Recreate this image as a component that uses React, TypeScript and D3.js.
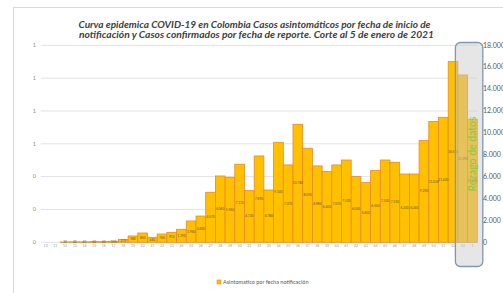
import { format, formatLocale, scaleBand, scaleLinear } from 'd3'

const weeks = [
  '10', '11', '12', '13', '14', '15', '16', '17', '18', '19',
  '20', '21', '22', '23', '24', '25', '26', '27', '28', '29',
  '30', '31', '32', '33', '34', '35', '36', '37', '38', '39',
  '40', '41', '42', '43', '44', '45', '46', '47', '48', '49',
  '50', '51', '52', '53', '1',
]

const asintomaticos = [
  0, 0, 30, 40, 40, 60, 60, 100, 270, 580,
  850, 460, 760, 910, 1190, 1950, 2400, 4570, 6060, 5940,
  7130, 4720, 7890, 4780, 9140, 7070, 10780, 8590, 6980, 6460,
  7070, 7520, 6000, 5450, 6550, 7520, 7310, 6240, 6240, 9290,
  11030, 11420, 16510, 15290, 11240,
]

// semanas con rezago de datos
const rezagoWeeks = ['53', '1']

const rightTicks = [0, 2000, 4000, 6000, 8000, 10000, 12000, 14000, 16000, 18000]
const leftTicks = [0, 0.2, 0.4, 0.6, 0.8, 1, 1.2]

const titleLines = [
  'Curva epidemica COVID-19 en Colombia  Casos asintomáticos por fecha de inicio de',
  'notificación y Casos  confirmados por fecha de reporte. Corte al 5 de enero de 2021',
]

const legendLabel = 'Asintomatico  por fecha notificación'

const width = 503
const height = 293

const plot = { left: 40.8, right: 477.3, top: 45.3, bottom: 242.3 }

const es = formatLocale({
  decimal: ',',
  thousands: '.',
  grouping: [3],
  currency: ['$', ''],
})
const fmtThousands = es.format(',')
const fmtLeft = format('.0f')

export default function App() {
  const xScale = scaleBand()
    .domain(weeks)
    .range([plot.left, plot.right])
    .padding(0)

  const yRight = scaleLinear().domain([0, 18000]).range([plot.bottom, plot.top])
  const yLeft = scaleLinear().domain([0, 1.2]).range([plot.bottom, plot.top])

  const rezagoX0 = (xScale(rezagoWeeks[0]) ?? 0) - 2.5
  const rezagoX1 = (xScale(rezagoWeeks[rezagoWeeks.length - 1]) ?? 0) + xScale.bandwidth() + 5.5

  return (
    <svg
      width={width}
      height={height}
      viewBox={`0 0 ${width} ${height}`}
      style={{ position: 'absolute', left: 0, top: 0, background: '#fff' }}
      fontFamily="Lato, 'Open Sans', sans-serif"
    >
      <rect x={13.5} y={7.5} width={600} height={400} fill="#fff" stroke="#d9d9d9" />

      {titleLines.map((line, i) => (
        <text
          key={line}
          x={width / 2 + 3 + i * 2}
          y={27.8 + i * 10}
          textAnchor="middle"
          fontSize={9.3}
          fontStyle="italic"
          fontWeight="bold"
          fill="#404040"
          textLength={352 + i * 3}
          lengthAdjust="spacingAndGlyphs"
        >
          {line}
        </text>
      ))}

      {leftTicks.map((tick) => (
        <line
          key={`grid-${tick}`}
          x1={plot.left}
          x2={plot.right}
          y1={yLeft(tick)}
          y2={yLeft(tick)}
          stroke="#e3e3e3"
          strokeWidth={1}
        />
      ))}

      {leftTicks.map((tick) => (
        <text
          key={`left-${tick}`}
          x={36}
          y={yLeft(tick)}
          dy="0.32em"
          textAnchor="end"
          fontSize={5.5}
          fill="#8c8c8c"
        >
          {fmtLeft(tick)}
        </text>
      ))}

      {asintomaticos.map((value, i) => {
        const x = xScale(weeks[i]) ?? 0
        const y = yRight(value)
        return (
          <rect
            key={`bar-${weeks[i]}`}
            x={x}
            y={y}
            width={xScale.bandwidth()}
            height={plot.bottom - y}
            fill="#FFC000"
            stroke="#E8892C"
            strokeWidth={0.8}
          />
        )
      })}

      {asintomaticos.map((value, i) => {
        if (value <= 0) return null
        const x = (xScale(weeks[i]) ?? 0) + xScale.bandwidth() / 2
        const y = (yRight(value) + plot.bottom) / 2
        return (
          <text
            key={`val-${weeks[i]}`}
            x={x}
            y={y}
            dy="0.32em"
            textAnchor="middle"
            fontSize={3.2}
            fill="#6a5424"
          >
            {fmtThousands(value)}
          </text>
        )
      })}

      {weeks.map((week) => (
        <text
          key={`wk-${week}`}
          x={(xScale(week) ?? 0) + xScale.bandwidth() / 2}
          y={247}
          textAnchor="middle"
          fontSize={3.5}
          fill="#9a9a9a"
        >
          {week}
        </text>
      ))}

      <rect
        x={rezagoX0}
        y={42.5}
        width={rezagoX1 - rezagoX0}
        height={224}
        rx={5}
        fill="rgba(200,200,200,0.45)"
        stroke="#8496b0"
        strokeWidth={1.3}
      />

      <text
        transform={`translate(${(rezagoX0 + rezagoX1) / 2 + 3.5}, 154) rotate(-90)`}
        textAnchor="middle"
        dy="0.35em"
        fontSize={10.5}
        fill="#8cc63f"
      >
        Rezago de datos
      </text>

      {rightTicks.map((tick) => (
        <text
          key={`right-${tick}`}
          x={483}
          y={yRight(tick)}
          dy="0.32em"
          fontSize={7}
          fill="#595959"
        >
          {fmtThousands(tick)}
        </text>
      ))}

      <rect x={217} y={280} width={4} height={4} fill="#FFC000" stroke="#E8892C" strokeWidth={0.6} />
      <text x={223} y={283.6} fontSize={5.5} fill="#595959">
        {legendLabel}
      </text>
    </svg>
  )
}
